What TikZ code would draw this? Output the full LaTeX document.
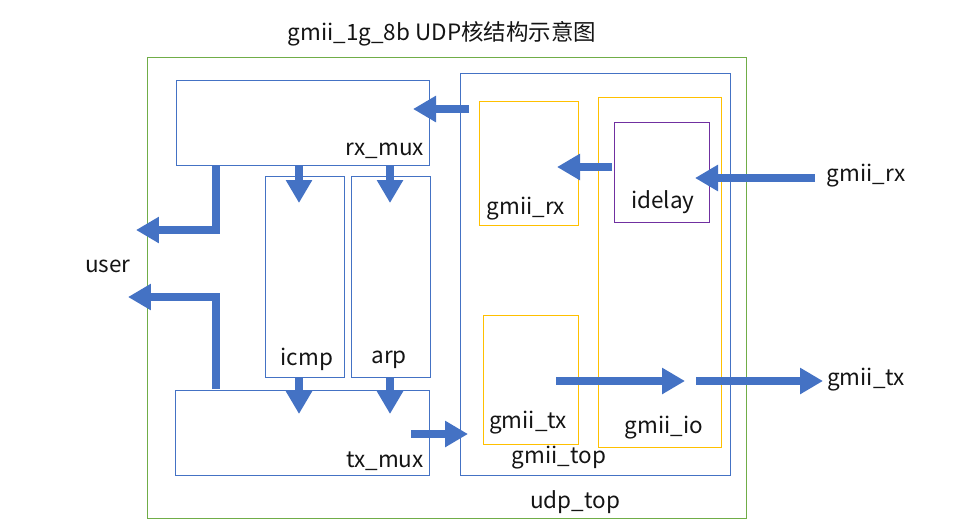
\documentclass[tikz,border=0pt]{standalone}
\usepackage{fontspec}
\setmainfont{Noto Sans CJK SC}
\definecolor{xblue}{RGB}{68,114,196}
\definecolor{xgreen}{RGB}{112,173,71}
\definecolor{xyellow}{RGB}{255,192,0}
\definecolor{xpurple}{RGB}{112,48,160}
\definecolor{xtext}{RGB}{20,20,20}
\usetikzlibrary{arrows.meta,positioning,fit}

\begin{document}
\begin{tikzpicture}[x=0.02cm, y=-0.02cm,
  box/.style={draw=#1, line width=0.5pt, inner sep=0pt},
  lbl/.style={font=\fontsize{12.8}{15}\selectfont, text=xtext, inner sep=0pt},
  bigarrow/.style={draw=xblue, line width=5pt, miter limit=10,
    -{Triangle[width=0.5cm, length=0.46cm]}}]
  \useasboundingbox (0,0) rectangle (959,525);

  % blocks
  \node[box=xgreen, fit={(147,57) (746,518)}] (udptop) {};
  \node[box=xblue, fit={(176,80) (429,165)}] (rxmux) {};
  \node[box=xblue, fit={(265,176) (344,377)}] (icmp) {};
  \node[box=xblue, fit={(351,176) (430,377)}] (arp) {};
  \node[box=xblue, fit={(175,390) (429,475)}] (txmux) {};
  \node[box=xblue, fit={(460,73) (730,475)}] (gmiitop) {};
  \node[box=xyellow, fit={(479,101) (578,225)}] (gmiirx) {};
  \node[box=xyellow, fit={(483,315) (578,444)}] (gmiitx) {};
  \node[box=xyellow, fit={(598,97) (721,447)}] (gmiiio) {};
  \node[box=xpurple, fit={(614,122) (709,222)}] (idelay) {};

  % labels
  \node[lbl] (title) at (442,34) {gmii\_1g\_8b UDP核结构示意图};
  \node[lbl] (udptopl) at (575,502) {udp\_top};
  \node[lbl] (rxmuxl) at (385,151) {rx\_mux};
  \node[lbl] (icmpl) at (307,359) {icmp};
  \node[lbl] (arpl) at (389,360) {arp};
  \node[lbl] (txmuxl) at (385,461) {tx\_mux};
  \node[lbl] (gmiitopl) at (559,458) {gmii\_top};
  \node[lbl] (gmiirxl) at (526,209) {gmii\_rx};
  \node[lbl] (gmiitxl) at (528,423) {gmii\_tx};
  \node[lbl] (gmiiiol) at (664,428) {gmii\_io};
  \node[lbl] (idelayl) at (663,202) {idelay};
  \node[lbl] (user) at (108,266) {user};
  \node[lbl] (rxpin) at (866,176) {gmii\_rx};
  \node[lbl] (txpin) at (866,380) {gmii\_tx};

  % arrow ends
  \coordinate (a1s) at (469,109);  \coordinate (a1e) at (413,109);
  \coordinate (a2s) at (216,165);  \coordinate (a2e) at (136,230);
  \coordinate (a3s) at (216,389);  \coordinate (a3e) at (128,297);
  \coordinate (a4s) at (299,165);  \coordinate (a4e) at (299,203);
  \coordinate (a5s) at (390,165);  \coordinate (a5e) at (390,203);
  \coordinate (a6s) at (299,377);  \coordinate (a6e) at (299,414);
  \coordinate (a7s) at (390,377);  \coordinate (a7e) at (390,414);
  \coordinate (a8s) at (411,434);  \coordinate (a8e) at (468,434);
  \coordinate (a9s) at (612,167);  \coordinate (a9e) at (557,167);
  \coordinate (a10s) at (815,178); \coordinate (a10e) at (695,178);
  \coordinate (a11s) at (556,381); \coordinate (a11e) at (685,381);
  \coordinate (a12s) at (696,381); \coordinate (a12e) at (823,381);

  % data flow
  \draw[bigarrow] (a1s) -- (a1e);
  \draw[bigarrow] (a2s) |- (a2e);
  \draw[bigarrow] (a3s) |- (a3e);
  \draw[bigarrow] (a4s) -- (a4e);
  \draw[bigarrow] (a5s) -- (a5e);
  \draw[bigarrow] (a6s) -- (a6e);
  \draw[bigarrow] (a7s) -- (a7e);
  \draw[bigarrow] (a8s) -- (a8e);
  \draw[bigarrow] (a9s) -- (a9e);
  \draw[bigarrow] (a10s) -- (a10e);
  \draw[bigarrow] (a11s) -- (a11e);
  \draw[bigarrow] (a12s) -- (a12e);
\end{tikzpicture}
\end{document}
